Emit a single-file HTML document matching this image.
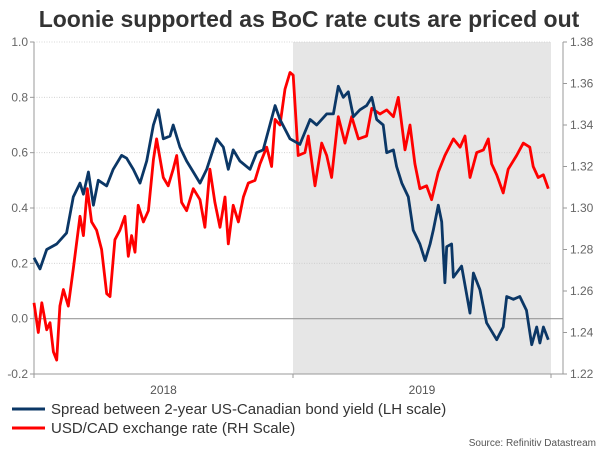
<!DOCTYPE html>
<html><head><meta charset="utf-8"><style>
body{margin:0;background:#fff;}
svg{display:block;font-family:"Liberation Sans",Arial,sans-serif;}
</style></head><body>
<svg id="c" width="600" height="450">
<text x="309" y="27" text-anchor="middle" font-size="23" font-weight="bold" fill="#333">Loonie supported as BoC rate cuts are priced out</text>
<g id="plot"></g>
<g>
<line x1="12" y1="409" x2="45" y2="409" stroke="#0b3766" stroke-width="3"/>
<text x="51" y="414" font-size="15" fill="#333">Spread between 2-year US-Canadian bond yield (LH scale)</text>
<line x1="12" y1="428" x2="45" y2="428" stroke="#ff0000" stroke-width="3"/>
<text x="51" y="433" font-size="15" fill="#333">USD/CAD exchange rate (RH Scale)</text>
</g>
<text x="596" y="446" text-anchor="end" font-size="10" fill="#555">Source: Refinitiv Datastream</text>
</svg>
<script>
const leftTicks=[-0.2,0,0.2,0.4,0.6,0.8,1.0];
const leftTickLabels=["-0.2","0.0","0.2","0.4","0.6","0.8","1.0"];
const rightTicks=[1.22,1.24,1.26,1.28,1.30,1.32,1.34,1.36,1.38];
const yearLabels=["2018","2019"];
const yearStarts=[0,12];
const shadeStart=12;
const spreadMonths=[0,0.28,0.59,1.05,1.51,1.82,2.13,2.29,2.52,2.75,2.98,3.37,3.67,4.06,4.29,4.60,4.91,5.22,5.53,5.76,5.99,6.30,6.45,6.76,7.07,7.38,7.69,8.00,8.46,8.77,9.00,9.23,9.54,10.01,10.32,10.62,10.93,11.17,11.40,11.86,12.32,12.79,13.10,13.56,13.87,14.10,14.33,14.56,14.80,15.10,15.41,15.65,15.88,16.18,16.34,16.65,16.80,17.04,17.34,17.57,17.88,18.12,18.35,18.50,18.73,18.89,19.04,19.12,19.35,19.43,19.81,20.20,20.36,20.66,20.97,21.44,21.74,21.90,22.21,22.51,22.82,23.06,23.29,23.44,23.60,23.83];
const spreadValues=[0.22,0.18,0.25,0.27,0.31,0.44,0.49,0.45,0.53,0.41,0.50,0.48,0.54,0.59,0.58,0.54,0.49,0.57,0.70,0.755,0.65,0.66,0.70,0.62,0.57,0.53,0.49,0.54,0.65,0.62,0.54,0.61,0.57,0.54,0.60,0.61,0.70,0.77,0.72,0.65,0.63,0.72,0.70,0.74,0.74,0.84,0.80,0.82,0.73,0.755,0.77,0.80,0.72,0.70,0.60,0.61,0.55,0.49,0.44,0.32,0.27,0.21,0.27,0.32,0.41,0.35,0.13,0.26,0.27,0.15,0.19,0.02,0.165,0.105,-0.015,-0.076,-0.03,0.08,0.07,0.08,0.03,-0.094,-0.03,-0.088,-0.03,-0.076];
const fxMonths=[0,0.20,0.36,0.59,0.74,0.90,1.05,1.20,1.36,1.59,1.82,2.13,2.29,2.47,2.67,2.90,3.13,3.37,3.52,3.75,3.98,4.21,4.37,4.52,4.68,4.83,5.07,5.30,5.53,5.68,5.99,6.22,6.45,6.61,6.84,7.07,7.38,7.69,7.92,8.15,8.38,8.62,8.85,9.00,9.23,9.47,9.70,9.93,10.24,10.47,10.78,11.01,11.17,11.40,11.63,11.86,12.01,12.24,12.55,12.71,13.02,13.33,13.56,13.79,14.10,14.41,14.72,15.03,15.41,15.65,16.03,16.34,16.65,16.88,17.19,17.42,17.65,17.88,18.19,18.42,18.73,19.04,19.43,19.74,19.97,20.20,20.51,20.82,21.05,21.20,21.44,21.74,21.97,22.36,22.67,22.97,23.13,23.36,23.60,23.83];
const fxValues=[1.2543,1.2400,1.2543,1.2413,1.2447,1.2307,1.2267,1.2527,1.2607,1.2527,1.2707,1.2960,1.2867,1.3093,1.2933,1.2893,1.2800,1.2587,1.2573,1.2847,1.2893,1.2960,1.2767,1.2867,1.2787,1.3013,1.2933,1.2987,1.3233,1.3333,1.3147,1.3107,1.3187,1.3253,1.3027,1.2987,1.3093,1.3040,1.2907,1.3187,1.3027,1.2907,1.3053,1.2827,1.3013,1.2933,1.3053,1.3120,1.3133,1.3213,1.3293,1.3200,1.3427,1.3400,1.3573,1.3653,1.3640,1.3253,1.3267,1.3347,1.3107,1.3313,1.3253,1.3147,1.3440,1.3313,1.3440,1.3333,1.3347,1.3480,1.3453,1.3473,1.3440,1.3533,1.3280,1.3400,1.3213,1.3093,1.3107,1.3040,1.3173,1.3253,1.3333,1.3293,1.3347,1.3147,1.3267,1.3280,1.3333,1.3213,1.3160,1.3073,1.3187,1.3253,1.3313,1.3293,1.3200,1.3147,1.3160,1.3093];

const NS="http://www.w3.org/2000/svg";
const X0=34,X1=293,PR=551,AR=563,YT=42,YB=374;
function xs(m){return X0+(X1-X0)*m/12;}
function yl(v){return YB-(v+0.2)/1.2*(YB-YT);}
function yr(v){return YB-(v-1.22)/0.16*(YB-YT);}
const g=document.getElementById('plot');
function mk(t,a){const e=document.createElementNS(NS,t);for(const k in a)e.setAttribute(k,a[k]);g.appendChild(e);return e;}
let e;
e=mk('rect',{x:xs(shadeStart),y:YT,width:PR-xs(shadeStart),height:YB-YT,fill:'#e6e6e6'});


leftTicks.forEach((v,i)=>{
  const y=yl(v);
  if(v===0){e=mk('line',{x1:X0,x2:AR,y1:y,y2:y,stroke:'#999','stroke-width':1.2});}
  else if(v>-0.2){e=mk('line',{x1:X0,x2:PR,y1:y,y2:y,stroke:'#ccc','stroke-width':0.8,'stroke-dasharray':'1,1.5'});}
  else{e=null;}

  e=mk('line',{x1:X0-4,x2:X0,y1:y,y2:y,stroke:'#999'});
  
  
  e=mk('text',{x:X0-6,y:y+4,'text-anchor':'end','font-size':12,fill:'#666'});
  e.textContent=leftTickLabels[i];
  
  
});
rightTicks.forEach(v=>{
  const y=yr(v);
  e=mk('line',{x1:AR,x2:AR+4,y1:y,y2:y,stroke:'#999'});
  
  
  e=mk('text',{x:AR+7,y:y+4,'font-size':12,fill:'#666'});
  e.textContent=v.toFixed(2);
  
  
});
e=mk('line',{x1:X0,x2:X0,y1:YT,y2:YB,stroke:'#999'});


e=mk('line',{x1:AR,x2:AR,y1:YT,y2:YB,stroke:'#999'});


e=mk('line',{x1:X0,x2:AR,y1:YB,y2:YB,stroke:'#999'});


[0,12,24].forEach(m=>{
  const x=Math.min(xs(m),PR);
  e=mk('line',{x1:x,x2:x,y1:YB,y2:YB+4,stroke:'#999'});
  
  
});
yearLabels.forEach((l,i)=>{
  e=mk('text',{x:(xs(yearStarts[i])+Math.min(xs(yearStarts[i]+12),PR))/2,y:394,'text-anchor':'middle','font-size':12,fill:'#555'});
  e.textContent=l;
  
  
});
function path(ms,vs,f){return ms.map((m,i)=>(i?'L':'M')+xs(m).toFixed(1)+','+f(vs[i]).toFixed(1)).join('');}
e=mk('path',{d:path(fxMonths,fxValues,yr),fill:'none',stroke:'#ff0000','stroke-width':2.8,'stroke-linejoin':'round'});


e=mk('path',{d:path(spreadMonths,spreadValues,yl),fill:'none',stroke:'#0b3766','stroke-width':2.8,'stroke-linejoin':'round'});


</script>
</body></html>
